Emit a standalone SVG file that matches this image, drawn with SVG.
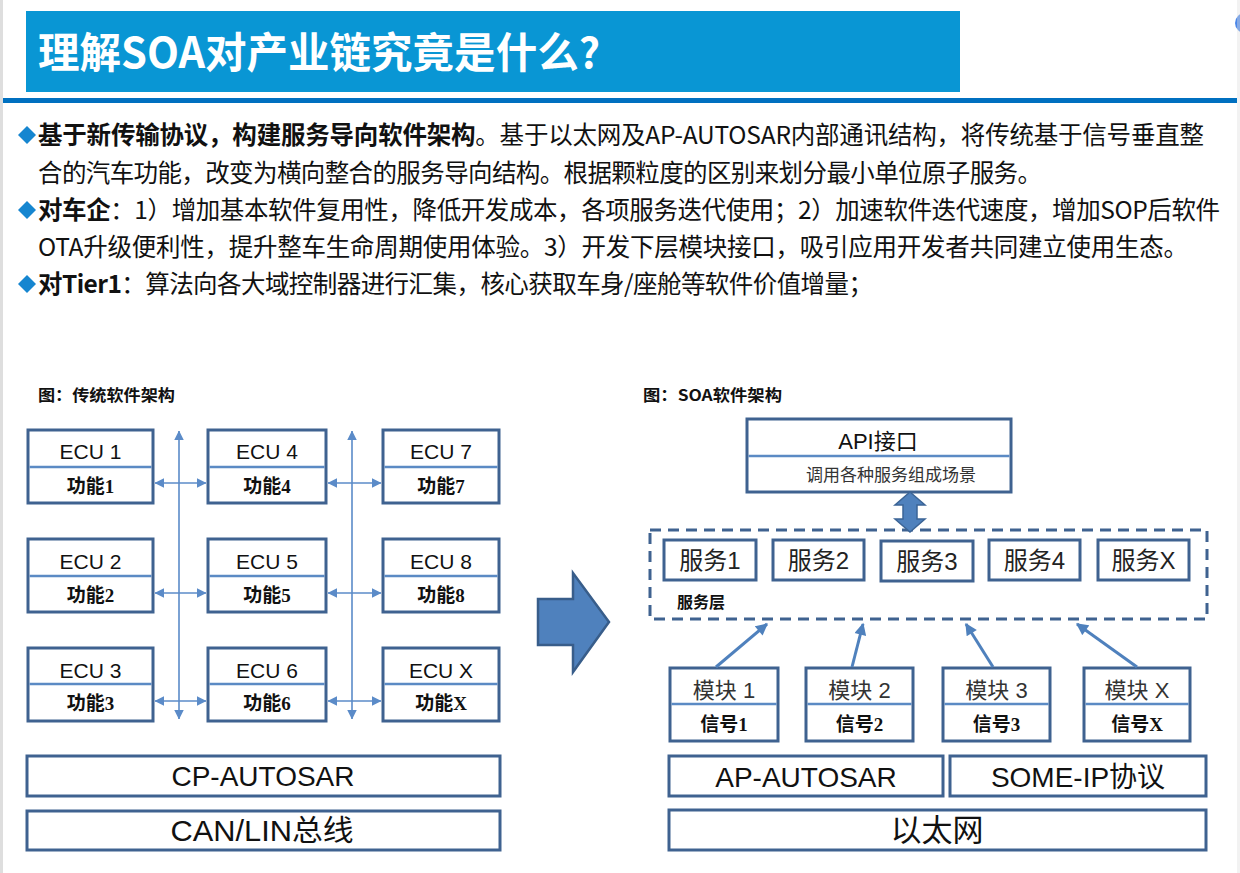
<svg xmlns="http://www.w3.org/2000/svg" width="1240" height="873" viewBox="0 0 1240 873">
<style>
.body{font-family:"Noto Sans CJK SC","Liberation Sans",sans-serif;font-size:24.5px;fill:#111}
.b{font-weight:bold}
.cap{font-family:"Noto Sans CJK SC","Liberation Sans",sans-serif;font-size:16px;font-weight:bold;fill:#111}
.box{fill:#fff;stroke:#3F6290;stroke-width:3}
.div{stroke:#5B8AC4;stroke-width:2.5}
.ecu{font-family:"Liberation Sans","Noto Sans CJK SC",sans-serif;font-size:21px;fill:#111;text-anchor:middle}
.fn{font-family:"Liberation Serif","Noto Sans CJK SC",serif;font-size:19px;font-weight:bold;fill:#111;text-anchor:middle}
.big{font-family:"Liberation Sans","Noto Sans CJK SC",sans-serif;font-size:28px;fill:#111;text-anchor:middle}
.svc{font-family:"Liberation Sans","Noto Sans CJK SC",sans-serif;font-size:24px;fill:#222;text-anchor:middle}
.mod{font-family:"Liberation Sans","Noto Sans CJK SC",sans-serif;font-size:22px;fill:#333;text-anchor:middle}
.thin{stroke:#5B8BC8;stroke-width:1.6;fill:none}
.up{stroke:#4F81BD;stroke-width:3;fill:none}
.dia{fill:#1686D0}
</style>
<defs>
<marker id="ah" viewBox="0 0 10 10" refX="9.5" refY="5" markerWidth="6" markerHeight="6" markerUnits="strokeWidth" orient="auto-start-reverse">
<path d="M0,0 L10,5 L0,10 Z" fill="#5B8BC8"/>
</marker>
<marker id="ah2" viewBox="0 0 10 10" refX="9" refY="5" markerWidth="4.5" markerHeight="4" markerUnits="strokeWidth" orient="auto">
<path d="M0,0 L10,5 L0,10 Z" fill="#4F81BD"/>
</marker>
</defs>

<!-- page chrome -->
<rect x="0" y="0" width="3" height="873" fill="#dedede"/>
<circle cx="1245" cy="23" r="10" fill="#4A86E8"/>
<rect x="1237" y="0" width="3" height="873" fill="#dedede" opacity="0.4"/>
<g id="title">
<rect x="26" y="11" width="934" height="81" fill="#0996D4"/>
<text transform="translate(38,68) scale(1,1.12)" x="0" y="0" font-family="Noto Sans CJK SC,Liberation Sans,sans-serif" font-size="38" font-weight="bold" fill="#fff" textLength="562" lengthAdjust="spacingAndGlyphs">理解SOA对产业链究竟是什么?</text>
</g>
<rect x="3" y="98" width="1234" height="5" fill="#0070C0"/>

<!-- body text -->
<g id="bullets">
<path class="dia" d="M27,126 L36,135 L27,144 L18,135 Z"/>
<path class="dia" d="M27,201 L36,210 L27,219 L18,210 Z"/>
<path class="dia" d="M27,275 L36,284 L27,293 L18,284 Z"/>
<text class="body" x="38" y="144" textLength="1166" lengthAdjust="spacing"><tspan class="b">基于新传输协议，构建服务导向软件架构</tspan>。基于以太网及AP-AUTOSAR内部通讯结构，将传统基于信号垂直整</text>
<text class="body" x="38" y="182" textLength="1004" lengthAdjust="spacing">合的汽车功能，改变为横向整合的服务导向结构。根据颗粒度的区别来划分最小单位原子服务。</text>
<text class="body" x="38" y="219" textLength="1182" lengthAdjust="spacing"><tspan class="b">对车企</tspan>：1）增加基本软件复用性，降低开发成本，各项服务迭代使用；2）加速软件迭代速度，增加SOP后软件</text>
<text class="body" x="38" y="256" textLength="1150" lengthAdjust="spacing">OTA升级便利性，提升整车生命周期使用体验。3）开发下层模块接口，吸引应用开发者共同建立使用生态。</text>
<text class="body" x="38" y="293" textLength="835" lengthAdjust="spacing"><tspan class="b">对Tier1</tspan>：算法向各大域控制器进行汇集，核心获取车身/座舱等软件价值增量；</text>
</g>

<!-- captions -->
<text class="cap" x="38" y="401" textLength="137" lengthAdjust="spacingAndGlyphs">图：传统软件架构</text>
<text class="cap" x="643" y="401" textLength="139" lengthAdjust="spacingAndGlyphs">图：SOA软件架构</text>

<!-- left: traditional -->
<g id="ecu1"><rect class="box" x="28" y="430" width="125" height="73"/><line class="div" x1="29.5" y1="467" x2="151.5" y2="467"/><text class="ecu" x="90.5" y="459">ECU 1</text><text class="fn" x="90.5" y="493">功能1</text></g>
<g id="ecu4"><rect class="box" x="208" y="430" width="118" height="73"/><line class="div" x1="209.5" y1="467" x2="324.5" y2="467"/><text class="ecu" x="267" y="459">ECU 4</text><text class="fn" x="267" y="493">功能4</text></g>
<g id="ecu7"><rect class="box" x="383" y="430" width="116" height="73"/><line class="div" x1="384.5" y1="467" x2="497.5" y2="467"/><text class="ecu" x="441" y="459">ECU 7</text><text class="fn" x="441" y="493">功能7</text></g>
<g id="ecu2"><rect class="box" x="28" y="539" width="125" height="73"/><line class="div" x1="29.5" y1="576" x2="151.5" y2="576"/><text class="ecu" x="90.5" y="569">ECU 2</text><text class="fn" x="90.5" y="602">功能2</text></g>
<g id="ecu5"><rect class="box" x="208" y="539" width="118" height="73"/><line class="div" x1="209.5" y1="576" x2="324.5" y2="576"/><text class="ecu" x="267" y="569">ECU 5</text><text class="fn" x="267" y="602">功能5</text></g>
<g id="ecu8"><rect class="box" x="383" y="539" width="116" height="73"/><line class="div" x1="384.5" y1="576" x2="497.5" y2="576"/><text class="ecu" x="441" y="569">ECU 8</text><text class="fn" x="441" y="602">功能8</text></g>
<g id="ecu3"><rect class="box" x="28" y="648" width="125" height="73"/><line class="div" x1="29.5" y1="684" x2="151.5" y2="684"/><text class="ecu" x="90.5" y="678">ECU 3</text><text class="fn" x="90.5" y="710">功能3</text></g>
<g id="ecu6"><rect class="box" x="208" y="648" width="118" height="73"/><line class="div" x1="209.5" y1="684" x2="324.5" y2="684"/><text class="ecu" x="267" y="678">ECU 6</text><text class="fn" x="267" y="710">功能6</text></g>
<g id="ecuX"><rect class="box" x="383" y="648" width="116" height="73"/><line class="div" x1="384.5" y1="684" x2="497.5" y2="684"/><text class="ecu" x="441" y="678">ECU X</text><text class="fn" x="441" y="710">功能X</text></g>
<g id="cp"><rect class="box" x="27" y="756" width="473" height="40"/><text class="big" x="263" y="786">CP-AUTOSAR</text></g>
<g id="can"><rect class="box" x="27" y="811" width="473" height="39"/><text class="big" x="262" y="841" style="font-size:29px" textLength="183" lengthAdjust="spacingAndGlyphs">CAN/LIN总线</text></g>

<g id="left-connectors">
<line class="thin" x1="179" y1="431" x2="179" y2="719" marker-start="url(#ah)" marker-end="url(#ah)"/>
<line class="thin" x1="352" y1="431" x2="352" y2="719" marker-start="url(#ah)" marker-end="url(#ah)"/>
<line class="thin" x1="155" y1="483" x2="206" y2="483" marker-start="url(#ah)" marker-end="url(#ah)"/>
<line class="thin" x1="328" y1="483" x2="381" y2="483" marker-start="url(#ah)" marker-end="url(#ah)"/>
<line class="thin" x1="155" y1="593" x2="206" y2="593" marker-start="url(#ah)" marker-end="url(#ah)"/>
<line class="thin" x1="328" y1="593" x2="381" y2="593" marker-start="url(#ah)" marker-end="url(#ah)"/>
<line class="thin" x1="155" y1="701" x2="206" y2="701" marker-start="url(#ah)" marker-end="url(#ah)"/>
<line class="thin" x1="328" y1="701" x2="381" y2="701" marker-start="url(#ah)" marker-end="url(#ah)"/>
</g>

<!-- big arrow -->
<path d="M538,599 L573,599 L573,573 L609,622 L573,672 L573,645 L538,645 Z" fill="#4F81BD" stroke="#385D8A" stroke-width="2.5"/>

<!-- right: SOA -->
<g id="api"><rect class="box" x="747" y="419" width="264" height="73"/><line class="div" x1="748.5" y1="456" x2="1009.5" y2="456"/><text class="mod" x="878" y="449" style="fill:#111">API接口</text><text x="891" y="481" font-family="Noto Sans CJK SC,sans-serif" font-size="17" fill="#333" text-anchor="middle">调用各种服务组成场景</text></g>
<g id="service-layer">
<rect x="650" y="530" width="557" height="89" fill="none" stroke="#3F6290" stroke-width="3" stroke-dasharray="11 7"/>
<text class="cap" x="677" y="608">服务层</text>
</g>
<g id="svc1"><rect class="box" x="664" y="540" width="92" height="40"/><text class="svc" x="710" y="569">服务1</text></g>
<g id="svc2"><rect class="box" x="773" y="540" width="91" height="40"/><text class="svc" x="818.5" y="569">服务2</text></g>
<g id="svc3"><rect class="box" x="881" y="541" width="92" height="40"/><text class="svc" x="927" y="570">服务3</text></g>
<g id="svc4"><rect class="box" x="989" y="540" width="91" height="40"/><text class="svc" x="1034.5" y="569">服务4</text></g>
<g id="svcX"><rect class="box" x="1098" y="540" width="91" height="40"/><text class="svc" x="1143.5" y="569">服务X</text></g>

<g id="mod1"><rect class="box" x="670" y="668" width="108" height="73"/><line class="div" x1="671.5" y1="704" x2="776.5" y2="704"/><text class="mod" x="724" y="698">模块 1</text><text class="fn" x="724" y="731">信号1</text></g>
<g id="mod2"><rect class="box" x="806" y="668" width="107" height="73"/><line class="div" x1="807.5" y1="704" x2="911.5" y2="704"/><text class="mod" x="859.5" y="698">模块 2</text><text class="fn" x="859.5" y="731">信号2</text></g>
<g id="mod3"><rect class="box" x="943" y="668" width="107" height="73"/><line class="div" x1="944.5" y1="704" x2="1048.5" y2="704"/><text class="mod" x="996.5" y="698">模块 3</text><text class="fn" x="996.5" y="731">信号3</text></g>
<g id="modX"><rect class="box" x="1084" y="668" width="106" height="73"/><line class="div" x1="1085.5" y1="704" x2="1188.5" y2="704"/><text class="mod" x="1137" y="698">模块 X</text><text class="fn" x="1137" y="731">信号X</text></g>

<g id="ap"><rect class="box" x="669" y="756" width="274" height="40"/><text class="big" x="806" y="787">AP-AUTOSAR</text></g>
<g id="someip"><rect class="box" x="950" y="756" width="256" height="40"/><text class="big" x="1078" y="787">SOME-IP协议</text></g>
<g id="eth"><rect class="box" x="669" y="810" width="537" height="40"/><text class="big" x="937" y="841" style="font-size:31px">以太网</text></g>

<g id="right-connectors">
<path d="M910,492 L925,505 L917,505 L917,519 L925,519 L910,532 L895,519 L903,519 L903,505 L895,505 Z" fill="#4F81BD" stroke="#3B6496" stroke-width="1.5"/>
<line class="up" x1="716" y1="667" x2="767" y2="624" marker-end="url(#ah2)"/>
<line class="up" x1="852" y1="667" x2="863" y2="624" marker-end="url(#ah2)"/>
<line class="up" x1="993" y1="667" x2="966" y2="624" marker-end="url(#ah2)"/>
<line class="up" x1="1137" y1="667" x2="1077" y2="624" marker-end="url(#ah2)"/>
</g>
</svg>
